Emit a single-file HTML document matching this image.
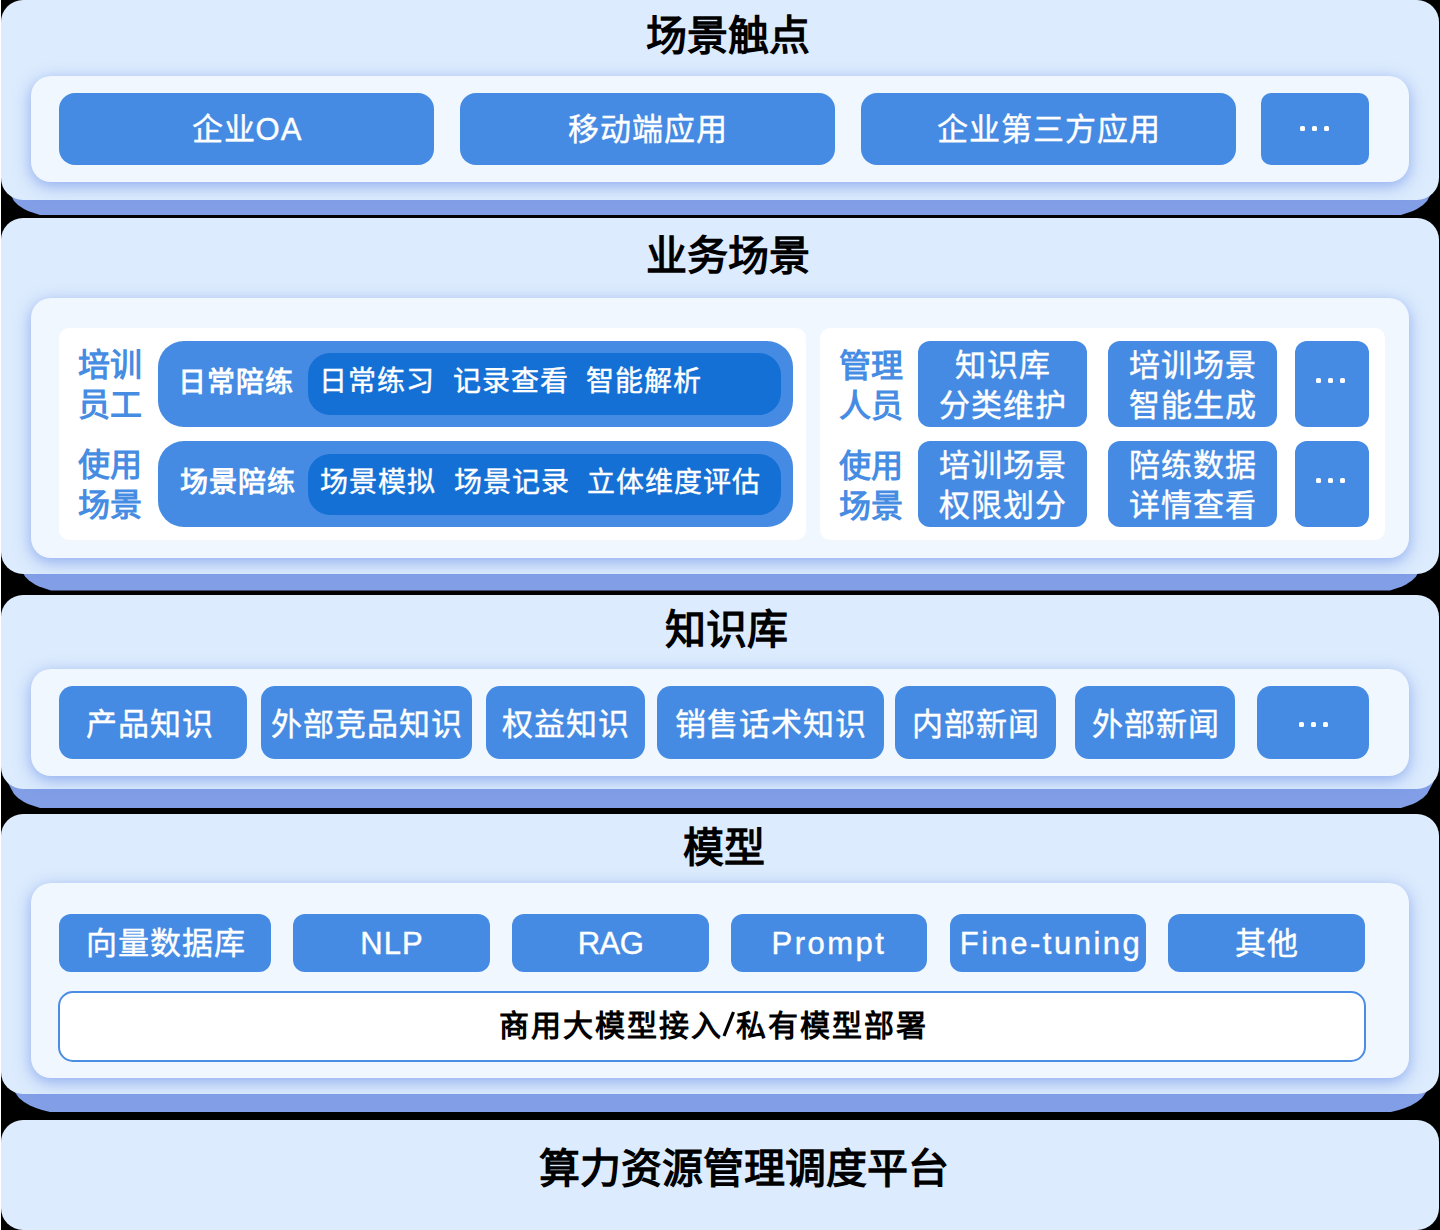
<!DOCTYPE html>
<html lang="zh-CN">
<head>
<meta charset="utf-8">
<style>
html,body{margin:0;padding:0;}
body{width:1440px;height:1230px;position:relative;overflow:hidden;background:#000;font-family:"Liberation Sans",sans-serif;}
div{box-sizing:border-box;}
.abs{position:absolute;}
.slab{position:absolute;left:0;width:1440px;background:#819ee6;}
.sec{position:absolute;left:1px;width:1438px;background:#dcebfd;border-radius:22px;}
.panel{position:absolute;left:31px;width:1378px;background:#f0f7fe;border-radius:20px;box-shadow:0 4px 16px rgba(90,130,228,0.6);}
.title{position:absolute;left:0;width:1440px;text-align:center;font-weight:700;font-size:41px;line-height:60px;color:#000;}
.btn{position:absolute;background:#468be3;color:#fff;text-align:center;border-radius:16px;font-size:31px;letter-spacing:1px;text-indent:1px;-webkit-text-stroke:0.4px #fff;}
.dots{position:absolute;display:flex;gap:7px;}
.dots i{display:block;width:5px;height:5px;border-radius:1.5px;background:#fff;}
.card{position:absolute;background:#fff;border-radius:10px;}
.lbl{position:absolute;color:#468ce3;font-weight:700;font-size:32px;line-height:40px;}
.pill{position:absolute;background:#468be3;border-radius:26px;}
.ipill{position:absolute;background:#1570d6;border-radius:22px;}
.t{position:absolute;color:#fff;white-space:nowrap;letter-spacing:1px;-webkit-text-stroke:0.4px #fff;}
</style>
</head>
<body>

<!-- Section 1 -->
<div class="slab" style="top:150px;height:65px;clip-path:polygon(5px 0px,5px 32px,8px 40px,14px 51px,18px 55px,24px 59px,28px 61px,34px 63px,40px 65px,1401px 65px,1407px 63px,1413px 61px,1417px 59px,1423px 55px,1427px 51px,1433px 40px,1436px 32px,1436px 0px);"></div>
<div class="sec" style="top:0px;height:200px;"></div>
<div class="title" style="top:6px;left:8px;">场景触点</div>
<div class="panel" style="top:76px;height:106px;"></div>
<div class="btn" style="left:59px;top:93px;width:375px;height:72px;line-height:74px;">企业OA</div>
<div class="btn" style="left:460px;top:93px;width:375px;height:72px;line-height:74px;">移动端应用</div>
<div class="btn" style="left:861px;top:93px;width:375px;height:72px;line-height:74px;">企业第三方应用</div>
<div class="btn" style="left:1261px;top:93px;width:108px;height:72px;border-radius:10px;"></div>
<div class="dots" style="left:1300px;top:126px;"><i></i><i></i><i></i></div>

<!-- Section 2 -->
<div class="slab" style="top:520px;height:70.5px;clip-path:polygon(16px 0px,16px 37.5px,19px 45.5px,25px 56.5px,29px 60.5px,35px 64.5px,39px 66.5px,45px 68.5px,51px 70.5px,1390px 70.5px,1396px 68.5px,1402px 66.5px,1406px 64.5px,1412px 60.5px,1416px 56.5px,1422px 45.5px,1425px 37.5px,1425px 0px);"></div>
<div class="sec" style="top:218px;height:356px;"></div>
<div class="title" style="top:226px;left:8px;">业务场景</div>
<div class="panel" style="top:298px;height:260px;"></div>
<div class="card" style="left:59px;top:328px;width:747px;height:212px;"></div>
<div class="card" style="left:820px;top:328px;width:565px;height:212px;"></div>
<div class="lbl" style="left:78px;top:345px;width:70px;">培训<br>员工</div>
<div class="lbl" style="left:78px;top:445px;width:70px;">使用<br>场景</div>
<div class="pill" style="left:158px;top:341px;width:635px;height:86px;"></div>
<div class="ipill" style="left:308px;top:353px;width:473px;height:62px;"></div>
<div class="t" style="left:178px;top:363px;font-size:28px;line-height:40px;font-weight:700;-webkit-text-stroke:0;">日常陪练</div>
<div class="t" style="left:319px;top:362px;font-size:28px;line-height:40px;">日常练习&nbsp;&nbsp;记录查看&nbsp;&nbsp;智能解析</div>
<div class="pill" style="left:158px;top:441px;width:635px;height:86px;"></div>
<div class="ipill" style="left:308px;top:454px;width:473px;height:61px;"></div>
<div class="t" style="left:180px;top:463px;font-size:28px;line-height:40px;font-weight:700;-webkit-text-stroke:0;">场景陪练</div>
<div class="t" style="left:320px;top:463px;font-size:28px;line-height:40px;">场景模拟&nbsp;&nbsp;场景记录&nbsp;&nbsp;立体维度评估</div>
<div class="lbl" style="left:839px;top:346px;width:70px;">管理<br>人员</div>
<div class="lbl" style="left:839px;top:446px;width:70px;">使用<br>场景</div>
<div class="btn" style="left:918px;top:341px;width:169px;height:86px;border-radius:12px;line-height:40px;padding-top:5px;">知识库<br>分类维护</div>
<div class="btn" style="left:1108px;top:341px;width:169px;height:86px;border-radius:12px;line-height:40px;padding-top:5px;">培训场景<br>智能生成</div>
<div class="btn" style="left:1295px;top:341px;width:74px;height:86px;border-radius:12px;"></div>
<div class="dots" style="left:1316px;top:378px;"><i></i><i></i><i></i></div>
<div class="btn" style="left:918px;top:441px;width:169px;height:86px;border-radius:12px;line-height:40px;padding-top:5px;">培训场景<br>权限划分</div>
<div class="btn" style="left:1108px;top:441px;width:169px;height:86px;border-radius:12px;line-height:40px;padding-top:5px;">陪练数据<br>详情查看</div>
<div class="btn" style="left:1295px;top:441px;width:74px;height:86px;border-radius:12px;"></div>
<div class="dots" style="left:1316px;top:478px;"><i></i><i></i><i></i></div>

<!-- Section 3 -->
<div class="slab" style="top:740px;height:68px;clip-path:polygon(5px 0px,5px 35px,8px 43px,14px 54px,18px 58px,24px 62px,28px 64px,34px 66px,40px 68px,1401px 68px,1407px 66px,1413px 64px,1417px 62px,1423px 58px,1427px 54px,1433px 43px,1436px 35px,1436px 0px);"></div>
<div class="sec" style="top:595px;height:194px;"></div>
<div class="title" style="top:600px;left:6px;">知识库</div>
<div class="panel" style="top:669px;height:107px;"></div>
<div class="btn" style="left:59px;top:686px;width:188px;height:73px;line-height:77px;border-radius:14px;"><span style="position:relative;left:-4px">产品知识</span></div>
<div class="btn" style="left:261px;top:686px;width:211px;height:73px;line-height:77px;border-radius:14px;">外部竞品知识</div>
<div class="btn" style="left:486px;top:686px;width:159px;height:73px;line-height:77px;border-radius:14px;">权益知识</div>
<div class="btn" style="left:657px;top:686px;width:227px;height:73px;line-height:77px;border-radius:14px;">销售话术知识</div>
<div class="btn" style="left:895px;top:686px;width:161px;height:73px;line-height:77px;border-radius:14px;">内部新闻</div>
<div class="btn" style="left:1075px;top:686px;width:160px;height:73px;line-height:77px;border-radius:14px;">外部新闻</div>
<div class="btn" style="left:1257px;top:686px;width:112px;height:73px;border-radius:14px;"></div>
<div class="dots" style="left:1299px;top:722px;"><i></i><i></i><i></i></div>

<!-- Section 4 -->
<div class="slab" style="top:1040px;height:72px;clip-path:polygon(10px 0px,10px 42px,14px 51px,19px 58px,24px 62px,30px 65.5px,36px 68px,42px 70px,50px 72px,1391px 72px,1399px 70px,1405px 68px,1411px 65.5px,1417px 62px,1422px 58px,1427px 51px,1431px 42px,1431px 0px);"></div>
<div class="sec" style="top:814px;height:280px;"></div>
<div class="title" style="top:818px;left:4px;">模型</div>
<div class="panel" style="top:883px;height:195px;"></div>
<div class="btn" style="left:59px;top:914px;width:212px;height:58px;line-height:60px;border-radius:12px;">向量数据库</div>
<div class="btn" style="left:293px;top:914px;width:197px;height:58px;line-height:60px;border-radius:12px;">NLP</div>
<div class="btn" style="left:512px;top:914px;width:197px;height:58px;line-height:60px;border-radius:12px;letter-spacing:-0.5px;text-indent:0;">RAG</div>
<div class="btn" style="left:731px;top:914px;width:196px;height:58px;line-height:60px;border-radius:12px;letter-spacing:2.5px;text-indent:0;">Prompt</div>
<div class="btn" style="left:950px;top:914px;width:196px;height:58px;line-height:60px;border-radius:12px;letter-spacing:2.5px;text-indent:6px;">Fine-tuning</div>
<div class="btn" style="left:1168px;top:914px;width:197px;height:58px;line-height:60px;border-radius:12px;">其他</div>
<div class="abs" style="left:58px;top:991px;width:1308px;height:71px;background:#fff;border:2px solid #4a8de3;border-radius:15px;text-align:center;line-height:65px;font-size:30px;letter-spacing:2px;text-indent:2px;font-weight:700;color:#000;">商用大模型接入<svg width="14" height="26" viewBox="0 0 14 26" style="vertical-align:-1px;margin:0 0 0 -1px"><path d="M2 25 L11.5 1" stroke="#000" stroke-width="3.2" fill="none"/></svg>私有模型部署</div>

<!-- Section 5 -->
<div class="sec" style="top:1120px;height:110px;"></div>
<div class="title" style="top:1139px;left:24px;">算力资源管理调度平台</div>

<div class="abs" style="left:0;top:0;width:1px;height:1230px;background:#fff;"></div>
</body>
</html>
